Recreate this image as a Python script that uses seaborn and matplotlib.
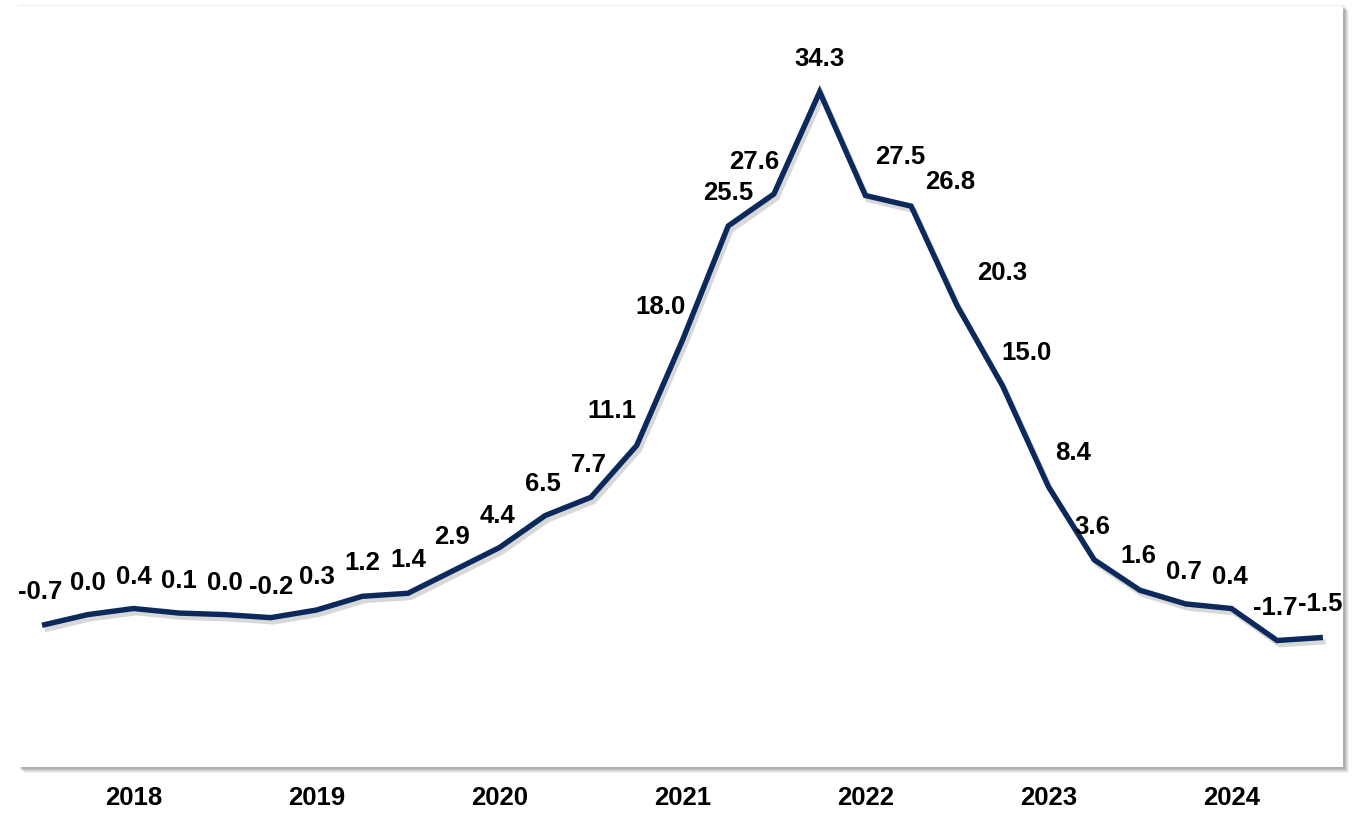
import matplotlib
matplotlib.use("Agg")
import matplotlib.pyplot as plt
import matplotlib.patheffects as pe
from matplotlib.patches import Rectangle
import seaborn as sns
import pandas as pd

# ---- data ----
values = [-0.7, 0.0, 0.4, 0.1, 0.0, -0.2, 0.3, 1.2, 1.4, 2.9, 4.4, 6.5, 7.7, 11.1,
          18.0, 25.5, 27.6, 34.3, 27.5, 26.8, 20.3, 15.0, 8.4, 3.6, 1.6, 0.7, 0.4, -1.7, -1.5]
years = ["2018", "2019", "2020", "2021", "2022", "2023", "2024"]
year_tick_pos = [2, 6, 10, 14, 18, 22, 26]

# label offsets (pixels) relative to each point
label_dx = [-2, 0, 0, 0, 0, 0, 0, 0, 0, -2, -2, -2, -2, -25, -22, 0, -20, 0,
            35, 39, 45, 24, 25, -2, -2, -2, -2, -2, -3]
label_dy = [33, 32, 32, 32, 32, 31, 33, 33, 33, 33, 32, 32, 32, 34, 33, 33, 32, 33,
            38, 24, 32, 33, 34, 33, 34, 32, 32, 33, 33]

df = pd.DataFrame({"idx": list(range(len(values))), "value": values})

sns.set_theme(style="white")
plt.rcParams["font.family"] = ["Liberation Sans", "DejaVu Sans"]

W, H = 1362, 813
fig = plt.figure(figsize=(W / 100, H / 100), dpi=100)
fig.patch.set_facecolor("white")

left, right, top, bottom = 18, 1343, 5, 767
ax_rect = [left / W, (H - bottom) / H, (right - left) / W, (bottom - top) / H]

# shadow behind plot box
for i, a in enumerate([0.10, 0.13, 0.17, 0.22, 0.28]):
    off = 6 - i
    fig.patches.append(Rectangle((ax_rect[0] + off / W, ax_rect[1] - off / H),
                                 ax_rect[2], ax_rect[3], transform=fig.transFigure,
                                 facecolor="#808080", edgecolor="none", alpha=a, zorder=0))

ax = fig.add_axes(ax_rect, zorder=1)
ax.set_facecolor("white")

sns.lineplot(data=df, x="idx", y="value", ax=ax, color="#0b2a5b", linewidth=3.9,
             solid_capstyle="butt", solid_joinstyle="miter",
             path_effects=[pe.SimpleLineShadow(offset=(2, -3), shadow_color="#909090", alpha=0.35),
                           pe.Normal()])

for i, v in enumerate(values):
    ax.annotate(f"{v:.1f}", xy=(i, v), xytext=(label_dx[i], label_dy[i]),
                textcoords="offset pixels", ha="center", va="center",
                fontsize=18.5, fontweight="bold", color="black")

ax.set_xlim(-0.525, 28.44)
ax.set_ylim(-10, 40)
ax.set_yticks([])
ax.set_xticks(year_tick_pos)
ax.set_xticklabels(years, fontsize=18.5, fontweight="bold", color="black")
ax.tick_params(axis="x", length=0, pad=14)
ax.set_xlabel("")
ax.set_ylabel("")
for s in ax.spines.values():
    s.set_visible(False)
ax.spines["top"].set_visible(True)
ax.spines["top"].set_color("#f0f0f0")
ax.spines["top"].set_linewidth(1)

fig.savefig("out.png", dpi=100, facecolor="white")
